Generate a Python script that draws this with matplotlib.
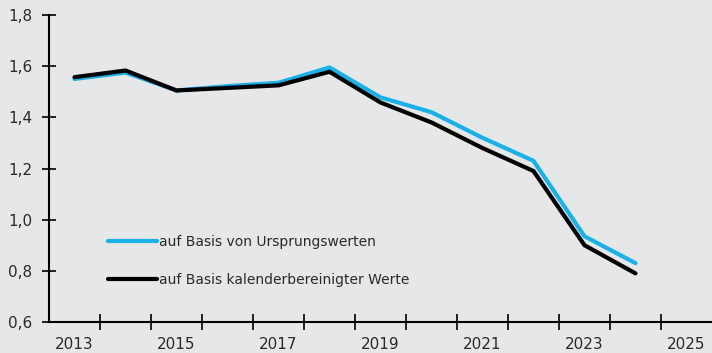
import matplotlib
matplotlib.use("Agg")
import matplotlib.pyplot as plt
import numpy as np

years = [2013, 2014, 2015, 2016, 2017, 2018, 2019, 2020, 2021, 2022, 2023, 2024]
axis_years = list(range(2013, 2026))
original = [1.550, 1.575, 1.505, 1.522, 1.535, 1.595, 1.478, 1.420, 1.320, 1.230, 0.935, 0.830]
calendar_adjusted = [1.557, 1.583, 1.505, 1.515, 1.525, 1.578, 1.458, 1.380, 1.280, 1.190, 0.900, 0.790]
label_original = "auf Basis von Ursprungswerten"
label_adjusted = "auf Basis kalenderbereinigter Werte"
y_ticks = [0.6, 0.8, 1.0, 1.2, 1.4, 1.6, 1.8]

bg = "#e6e7e9"
blue = "#1ab0e8"
text_color = "#2a2a2a"

plt.rcParams["font.family"] = ["DejaVu Sans"]

fig = plt.figure(figsize=(7.12, 3.53), dpi=100, facecolor=bg)
ax = fig.add_axes([49 / 712, 1 - 322 / 353, 1 - 49 / 712, (322 - 15) / 353])
ax.set_facecolor(bg)

ax.plot(years, original, color=blue, lw=3.0, solid_capstyle="round",
        solid_joinstyle="miter", label=label_original, zorder=3)
ax.plot(years, calendar_adjusted, color="black", lw=3.0, solid_capstyle="round",
        solid_joinstyle="miter", label=label_adjusted, zorder=4)

ax.set_xlim(axis_years[0] - 0.5, axis_years[-1] + 0.5)
ax.set_ylim(0.6, 1.8)

# category boundaries carry the tick marks, labels sit at the centres
ax.set_xticks(np.arange(axis_years[0] + 0.5, axis_years[-1] + 0.5, 1.0))
ax.set_xticklabels([])
ax.set_xticks(axis_years[::2], minor=True)
ax.set_xticklabels([str(y) for y in axis_years[::2]], minor=True)
ax.tick_params(axis="x", which="major", direction="inout", length=11, width=1.2, color="black")
ax.tick_params(axis="x", which="minor", length=0, pad=11, labelsize=11, labelcolor=text_color)

ax.set_yticks(y_ticks)
ax.set_yticklabels([f"{v:.1f}".replace(".", ",") for v in y_ticks])
ax.tick_params(axis="y", direction="inout", length=10, width=1.2, pad=7,
               labelsize=11, labelcolor=text_color)

for side in ("top", "right"):
    ax.spines[side].set_visible(False)
for side in ("left", "bottom"):
    ax.spines[side].set_linewidth(1.5)
    ax.spines[side].set_color("black")

leg = ax.legend(loc="upper left", bbox_to_anchor=(59 / 663, (322 - 235) / 307),
                frameon=False, fontsize=10, handlelength=3.5, handletextpad=0.2,
                labelspacing=1.75, borderaxespad=0, borderpad=0)
for t in leg.get_texts():
    t.set_color(text_color)

fig.savefig("out.png", dpi=100, facecolor=bg)
